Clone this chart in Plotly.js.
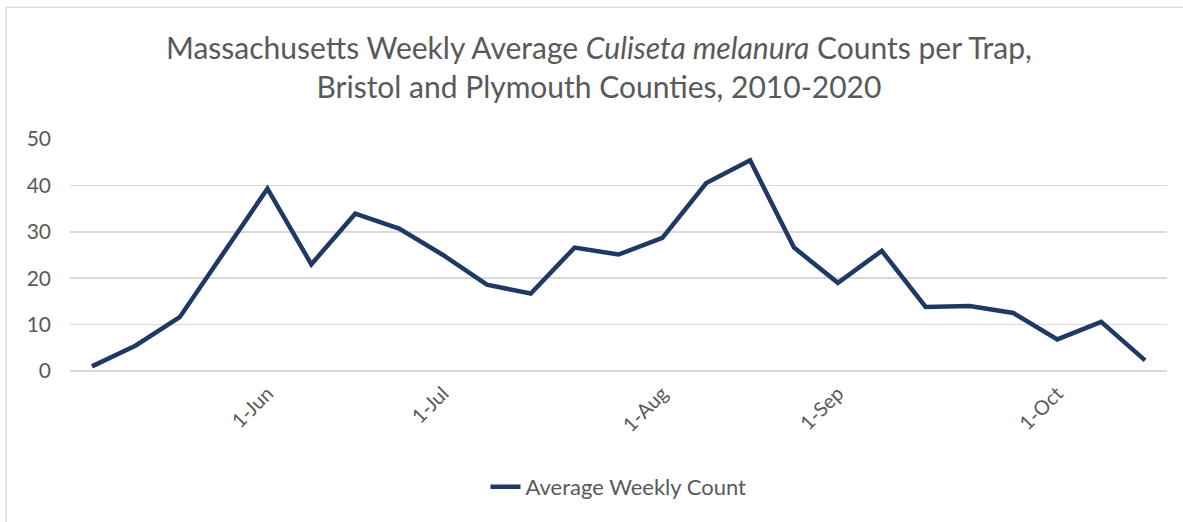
<!DOCTYPE html>
<html>
<head>
<meta charset="utf-8">
<script src="https://cdn.plot.ly/plotly-3.0.1.min.js"></script>
<style>
  html, body { margin: 0; padding: 0; background: #ffffff; }
  #chart { width: 1183px; height: 522px; }
</style>
</head>
<body>
<div id="chart"></div>
<script>
// Weekly sample index (25 consecutive weeks)
const weekIndex = [0, 1, 2, 3, 4, 5, 6, 7, 8, 9, 10, 11, 12, 13, 14, 15, 16, 17, 18, 19, 20, 21, 22, 23, 24];
// Average weekly Culiseta melanura count per trap
const avgWeeklyCount = [1.0, 5.5, 11.6, 25.5, 39.3, 23.0, 33.9, 30.7, 25.0, 18.6, 16.7, 26.6, 25.1, 28.7, 40.5, 45.4, 26.6, 19.0, 25.9, 13.8, 14.0, 12.5, 6.8, 10.6, 2.3];
// Month tick labels and the weeks they sit on
const tickWeeks = [4, 8, 13, 17, 22];
const tickLabels = ['1-Jun', '1-Jul', '1-Aug', '1-Sep', '1-Oct'];
const yTicks = [0, 10, 20, 30, 40, 50];

const FONT = 'Lato, "Open Sans", sans-serif';
const GREY = '#595959';

const trace = {
  x: weekIndex,
  y: avgWeeklyCount,
  type: 'scatter',
  mode: 'lines',
  name: 'Average Weekly Count',
  line: { color: '#1f3864', width: 4.5 },
  hoverinfo: 'y'
};

const layout = {
  width: 1183,
  height: 522,
  paper_bgcolor: '#ffffff',
  plot_bgcolor: '#ffffff',
  margin: { l: 70, r: 16, t: 139, b: 151 },
  font: { family: FONT, color: GREY },
  title: {
    text: 'Massachusetts Weekly Average <i>Culiseta melanura</i> Counts per Trap,<br>Bristol and Plymouth Counties, 2010-2020',
    font: { family: FONT, size: 30, color: GREY },
    x: 0.5063, xanchor: 'center', xref: 'container',
    y: 0.887, yanchor: 'middle', yref: 'container'
  },
  xaxis: {
    range: [-0.5, 24.5],
    tickmode: 'array',
    tickvals: tickWeeks,
    ticktext: tickLabels,
    tickangle: -45,
    tickfont: { family: FONT, size: 20, color: GREY },
    showgrid: false,
    zeroline: false,
    showline: false,
    ticks: '',
    ticklabelstandoff: 6,
    fixedrange: true
  },
  yaxis: {
    range: [0, 50],
    tickmode: 'array',
    tickvals: yTicks,
    tickfont: { family: FONT, size: 21, color: GREY },
    showgrid: true,
    gridcolor: '#d9d9d9',
    gridwidth: 1.5,
    zeroline: true,
    zerolinecolor: '#d9d9d9',
    zerolinewidth: 1.5,
    showline: false,
    ticks: '',
    ticklabelstandoff: 18,
    fixedrange: true
  },
  showlegend: true,
  legend: {
    orientation: 'h',
    x: 0.5, xanchor: 'center',
    y: -0.5, yanchor: 'middle',
    font: { family: FONT, size: 22, color: GREY },
    bgcolor: 'rgba(0,0,0,0)'
  },
  shapes: [{
    type: 'rect', xref: 'paper', yref: 'paper',
    x0: -0.0583, x1: 1.03, y0: -0.72, y1: 1.5677,
    line: { color: '#d9d9d9', width: 1.3 },
    fillcolor: 'rgba(0,0,0,0)',
    layer: 'below'
  }]
};

Plotly.newPlot('chart', [trace], layout, { displayModeBar: false, staticPlot: true });
</script>
</body>
</html>
